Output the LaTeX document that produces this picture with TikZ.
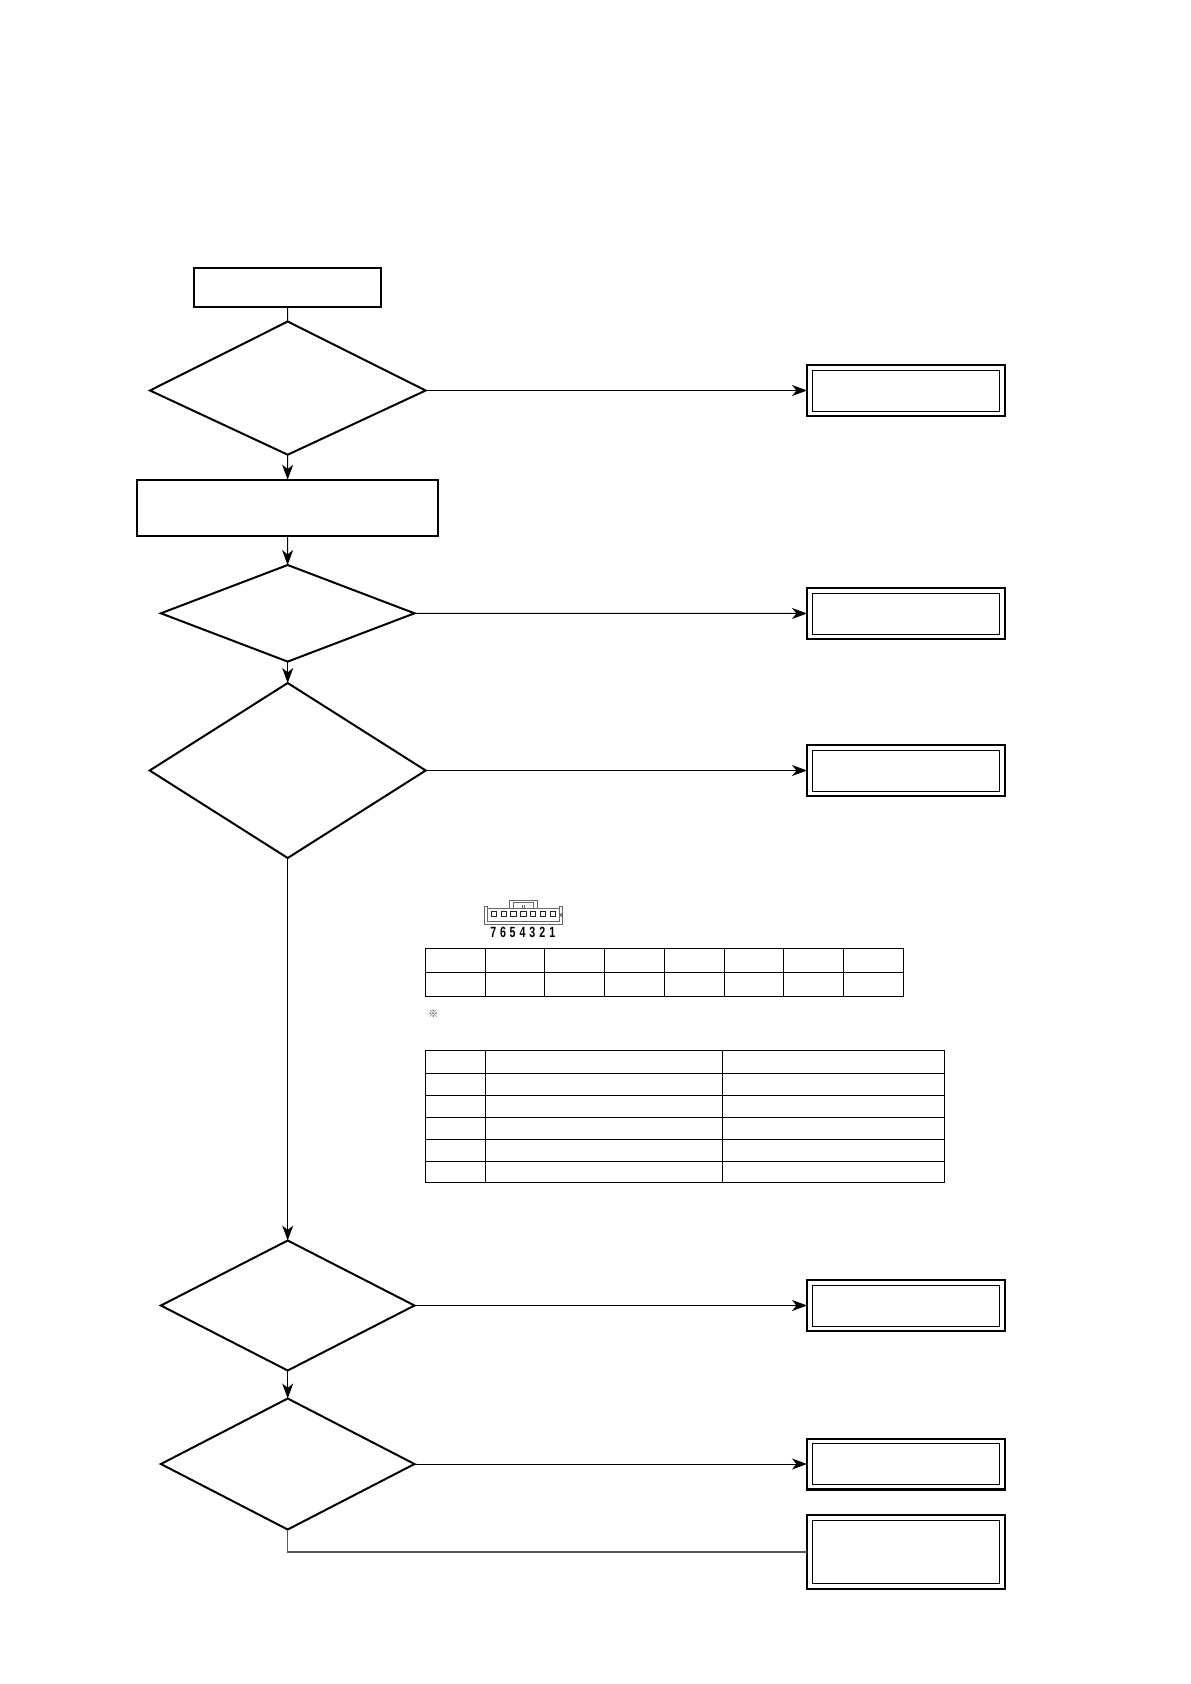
\documentclass[tikz,border=0pt]{standalone}
\usepackage{fontspec}
\newfontfamily\notefont{Noto Sans CJK JP}
\setsansfont{Liberation Sans}
\usetikzlibrary{shapes.geometric, arrows.meta}
\tikzset{
  flowbox/.style = {draw, line width = 1pt, inner sep = 0pt, outer sep = 0pt},
  decision/.style = {flowbox, diamond, aspect = 1},
  resultbox/.style = {flowbox, line width = 1.1pt, minimum width = 99pt, minimum height = 25.4pt},
  resultin/.style = {draw, line width = 0.45pt, inner sep = 0pt, outer sep = 0pt, minimum width = 93.7pt},
  link/.style = {line width = 0.5pt},
  arrowlink/.style = {link, -{Stealth[length = 7.5pt, width = 5.5pt, inset = 2.2pt]}},
  tableline/.style = {line width = 0.5pt},
  pinline/.style = {draw = black!60, line width = 0.5pt}
}
\begin{document}
\begin{tikzpicture}[x = 0.5pt, y = -0.5pt]
\useasboundingbox (0,0) rectangle (1190,1684);

\node[flowbox, minimum width = 93.7pt, minimum height = 19.5pt] (start) at (287.5,287.5) {};
\coordinate (check1n) at (287.7,321.5);
\coordinate (check1e) at (425.7,390.5);
\coordinate (check1s) at (287.7,454.7);
\coordinate (check1w) at (150,390.5);
\draw[line width = 1pt, line join = miter] (check1n) -- (check1e) -- (check1s) -- (check1w) -- cycle;
\node[flowbox, minimum width = 150.6pt, minimum height = 28pt] (setup) at (287.5,507.7) {};
\node[decision, minimum width = 126.8pt, minimum height = 48.3pt] (check2) at (287.7,613.3) {};
\node[decision, minimum width = 138pt, minimum height = 87.5pt] (check3) at (287.7,770.5) {};
\node[decision, minimum width = 126.8pt, minimum height = 65pt] (check4) at (287.7,1305.5) {};
\node[decision, minimum width = 126.8pt, minimum height = 65.5pt] (check5) at (287.7,1464) {};

\node[resultbox] (result1) at (906,390.5) {};
\node[resultin, minimum height = 20.5pt] (inner1) at (result1) {};
\draw[arrowlink] (check1e) -- (result1.west);
\foreach \n/\y in {2/613.5, 3/770.5, 4/1305.5, 5/1464} {
  \node[resultbox] (result\n) at (906,\y) {};
  \node[resultin, minimum height = 20.5pt] (inner\n) at (result\n) {};
  \draw[arrowlink] (check\n.east) -- (result\n.west);
}
\node[resultbox, minimum height = 37.2pt] (result6) at (906,1552) {};
\node[resultin, minimum height = 31.2pt] (inner6) at (result6) {};

\draw[link] (start) -- (check1n);
\draw[arrowlink] (check1s) -- (setup);
\draw[arrowlink] (setup) -- (check2);
\draw[arrowlink] (check2) -- (check3);
\draw[arrowlink] (check3) -- (check4);
\draw[arrowlink] (check4) -- (check5);
\draw[line width = 0.6pt, black!65] (check5.south) |- (result6.west);

\draw[tableline] (425.5,948.5) rectangle (903.5,996.5);
\draw[tableline] (425.5,972.5) -- (903.5,972.5);
\foreach \x in {485.5, 544.5, 604.5, 664.5, 724.5, 783.5, 843.5} {
  \draw[tableline] (\x,948.5) -- (\x,996.5);
}

\node[font = \notefont\fontsize{5}{6}\selectfont, text = black!80, inner sep = 0pt] (mark) at (433.3,1013.5) {※};

\draw[tableline] (425.5,1050.5) rectangle (944.5,1182.5);
\foreach \y in {1073.5, 1095.5, 1117.5, 1139.5, 1161.5} {
  \draw[tableline] (425.5,\y) -- (944.5,\y);
}
\foreach \x in {485.5, 722.5} {
  \draw[tableline] (\x,1050.5) -- (\x,1182.5);
}

\begin{scope}[shift = {(400,880)}, x = 0.1667pt, y = -0.1667pt]
\draw[pinline] (262,78) -- (253,78) -- (253,133) -- (487,133) -- (487,78) -- (478,78) -- (478,125) -- (262,125) -- cycle;
\draw[pinline] (262,85) -- (478,85);
\draw[pinline] (328,85) -- (328,62) -- (413,62) -- (413,85);
\draw[pinline] (340,85) -- (340,68) -- (401,68) -- (401,85);
\draw[pinline] (366,76) -- (366,85) (372,76) -- (372,85);
\draw[pinline] (484,105) circle (4);
\foreach \x/\d in {282/7, 311/6, 340/5, 370/4, 399/3, 429/2, 459/1} {
  \draw[line width = 0.4pt, draw = black!85] (\x-8,93) rectangle (\x+8,109);
  \node[font = \sffamily\bfseries\fontsize{7.4}{8}\selectfont, xscale = 0.72, inner sep = 0pt] (pin\d) at (\x-2,157) {\d};
}
\end{scope}
\end{tikzpicture}
\end{document}
